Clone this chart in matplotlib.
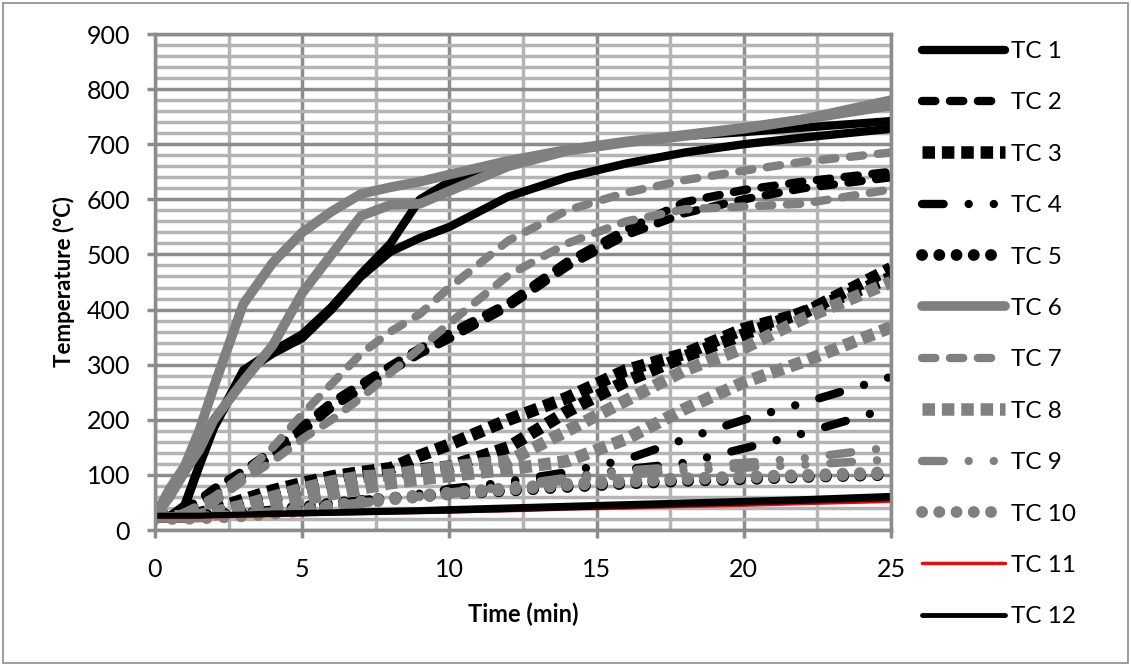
import matplotlib
matplotlib.use("Agg")
import matplotlib.pyplot as plt
from matplotlib.patches import Rectangle

plt.rcParams['font.family'] = ['Lato', 'DejaVu Sans']

# Time axis shared by all thermocouples (min)
TIME = [0, 0.5, 1, 1.5, 2, 3, 4, 5, 6, 7, 8, 9, 10, 12, 14, 16, 18, 20, 22, 25]

# Two test runs per thermocouple (deg C)
TC1_A = [25, 25, 40, 115, 185, 285, 320, 348, 400, 460, 505, 530, 550, 605, 640, 665, 685, 700, 712, 728]
TC1_B = [25, 25, 45, 118, 190, 290, 325, 355, 405, 465, 520, 600, 632, 662, 688, 705, 715, 722, 730, 742]
TC2_A = [25, 25, 38, 55, 75, 108, 145, 188, 232, 265, 298, 330, 357, 412, 487, 545, 595, 617, 632, 650]
TC2_B = [25, 25, 33, 48, 65, 98, 135, 178, 222, 255, 288, 320, 347, 405, 478, 535, 575, 600, 620, 640]
TC3_A = [25, 25, 25, 30, 38, 55, 72, 85, 97, 105, 112, 135, 155, 200, 240, 290, 320, 365, 393, 475]
TC3_B = [25, 25, 25, 27, 32, 45, 60, 75, 88, 98, 105, 110, 115, 150, 215, 270, 315, 355, 395, 458]
TC4_A = [25, 25, 25, 26, 28, 32, 37, 42, 48, 54, 60, 66, 72, 88, 105, 128, 165, 200, 230, 278]
TC4_B = [25, 25, 25, 25, 26, 30, 34, 38, 44, 50, 56, 62, 75, 86, 95, 110, 122, 148, 175, 222]
TC5_A = [25, 25, 25, 26, 28, 32, 37, 42, 48, 53, 58, 62, 66, 72, 80, 86, 90, 93, 97, 103]
TC5_B = [25, 25, 25, 25, 27, 30, 34, 40, 46, 52, 57, 61, 65, 71, 78, 84, 89, 92, 96, 100]
TC6_A = [25, 75, 115, 180, 260, 410, 485, 540, 578, 610, 622, 632, 645, 670, 690, 705, 717, 730, 745, 780]
TC6_B = [25, 60, 105, 145, 200, 270, 335, 430, 500, 570, 590, 592, 615, 660, 688, 703, 715, 728, 745, 770]
TC7_A = [25, 25, 32, 45, 60, 100, 150, 210, 265, 320, 360, 392, 440, 525, 580, 612, 635, 652, 668, 685]
TC7_B = [25, 25, 28, 35, 50, 90, 125, 165, 200, 240, 285, 330, 375, 462, 520, 560, 582, 587, 592, 618]
TC8_A = [25, 25, 25, 27, 32, 45, 60, 75, 88, 97, 100, 108, 115, 125, 180, 235, 290, 330, 383, 450]
TC8_B = [25, 25, 25, 25, 28, 35, 45, 55, 65, 75, 85, 92, 98, 110, 125, 165, 220, 268, 305, 368]
TC9_A = [25, 25, 25, 25, 27, 30, 34, 38, 44, 50, 56, 62, 68, 80, 95, 108, 115, 122, 130, 150]
TC9_B = [25, 25, 25, 25, 26, 29, 32, 36, 42, 48, 54, 60, 65, 78, 90, 100, 108, 113, 118, 128]
TC10_A = [22, 22, 22, 23, 24, 27, 32, 38, 45, 52, 58, 63, 68, 76, 84, 90, 94, 97, 100, 105]
TC10_B = [20, 20, 20, 21, 22, 25, 29, 35, 42, 49, 55, 60, 65, 73, 81, 87, 92, 95, 98, 102]
TC11 = [23, 23, 23, 23, 24, 25, 26, 28, 29, 30, 31, 32, 33, 35, 38, 40, 43, 45, 48, 52]
TC12_A = [25, 25, 25, 25, 26, 27, 28, 29, 30, 31, 32, 33, 34, 37, 40, 43, 46, 49, 52, 57]
TC12_B = [27, 27, 27, 27, 28, 29, 31, 32, 33, 35, 36, 37, 39, 42, 45, 48, 51, 54, 57, 63]

BLACK = '#000000'
GRAY = '#808080'
DASH = (0, (1.6, 1.75))
SQUARE = (0, (1.0, 0.55))
DASHDOTDOT = (0, (2.6, 3.0, 0.01, 3.0, 0.01, 3.0))
DOT = (0, (0.01, 1.45))

# label, runs, color, linestyle, linewidth, capstyle
SERIES = [
    ('TC 1', [TC1_A, TC1_B], BLACK, '-', 6, 'round'),
    ('TC 2', [TC2_A, TC2_B], BLACK, DASH, 6, 'round'),
    ('TC 3', [TC3_A, TC3_B], BLACK, SQUARE, 9, 'butt'),
    ('TC 4', [TC4_A, TC4_B], BLACK, DASHDOTDOT, 6, 'round'),
    ('TC 5', [TC5_A, TC5_B], BLACK, DOT, 8.5, 'round'),
    ('TC 6', [TC6_A, TC6_B], GRAY, '-', 7, 'round'),
    ('TC 7', [TC7_A, TC7_B], GRAY, DASH, 6, 'round'),
    ('TC 8', [TC8_A, TC8_B], GRAY, SQUARE, 9, 'butt'),
    ('TC 9', [TC9_A, TC9_B], GRAY, DASHDOTDOT, 6, 'round'),
    ('TC 10', [TC10_A, TC10_B], GRAY, DOT, 8.5, 'round'),
    ('TC 11', [TC11], '#ff0000', '-', 2.5, 'round'),
    ('TC 12', [TC12_A, TC12_B], BLACK, '-', 3.5, 'round'),
]

fig = plt.figure(figsize=(11.31, 6.66), dpi=100)
fig.patches.append(Rectangle((0.003, 0.004), 0.994, 0.992, transform=fig.transFigure,
                             fill=False, edgecolor='#8c8c8c', linewidth=1.2))

ax = fig.add_axes([155 / 1131, 1 - 530 / 666, 736 / 1131, 496 / 666])

handles = []
for label, runs, color, ls, lw, cap in SERIES:
    for i, run in enumerate(runs):
        line, = ax.plot(TIME, run, color=color, linestyle=ls, linewidth=lw,
                        dash_capstyle=cap, solid_capstyle='round',
                        label=label if i == 0 else None)
        if i == 0:
            handles.append(line)

ax.set_xlim(0, 25)
ax.set_ylim(0, 900)
ax.set_xticks(range(0, 26, 5))
ax.set_xticks([2.5, 7.5, 12.5, 17.5, 22.5], minor=True)
ax.set_yticks(range(0, 901, 100))
ax.set_yticks([v for v in range(0, 901, 20) if v % 100], minor=True)

ax.set_axisbelow(True)
ax.grid(which='minor', color='#b4b4b4', linewidth=2.5)
ax.grid(which='major', color='#8c8c8c', linewidth=2.5)
for sp in ax.spines.values():
    sp.set_color('#8c8c8c')
    sp.set_linewidth(2.5)

ax.tick_params(which='major', direction='out', length=6, width=2.5, color='#8c8c8c',
               labelsize=18, pad=12)
ax.tick_params(axis='x', which='major', pad=14)
ax.tick_params(which='minor', length=0)

ax.set_xlabel('Time (min)', fontsize=17, fontweight='bold', labelpad=16)
ax.set_ylabel('Temperature (°C)', fontsize=16, fontweight='bold', labelpad=8)

fig.legend(handles=handles, labels=[s[0] for s in SERIES], loc='upper left',
           bbox_to_anchor=(922 / 1131, 1 - 41 / 666), frameon=False,
           fontsize=17.5, handlelength=3.4, handletextpad=0.25,
           labelspacing=1.25, borderpad=0, borderaxespad=0)

fig.savefig('out.png', dpi=100)
